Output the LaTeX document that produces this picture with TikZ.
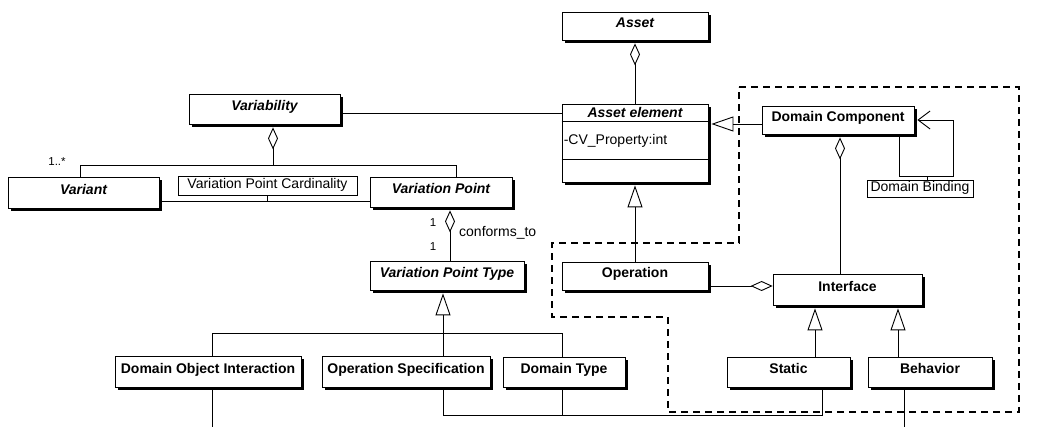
\documentclass[tikz,border=0pt]{standalone}
\usepackage{fontspec}
\setmainfont{Liberation Sans}
\usetikzlibrary{arrows.meta,shadows,calc}
\begin{document}
\begin{tikzpicture}[x=1pt,y=-1pt,
  cls/.style={draw, line width=0.8pt, fill=white, inner sep=0pt,
    font=\fontsize{14}{16}\selectfont\bfseries, text height=10pt, text depth=6pt,
    drop shadow={shadow xshift=3pt, shadow yshift=-3pt, fill=black, opacity=1}},
  abs/.style={cls, font=\fontsize{14}{16}\selectfont\bfseries\itshape},
  lbl/.style={draw, line width=0.6pt, fill=white, inner sep=0pt,
    font=\fontsize{14}{16}\selectfont, text height=10pt, text depth=3pt},
  txt/.style={inner sep=0pt, font=\fontsize{14}{16}\selectfont},
  mult/.style={inner sep=0pt, font=\fontsize{11.5}{13}\selectfont},
  conn/.style={line width=0.9pt},
  agg/.style={conn, -{Diamond[open, fill=white, length=22pt, width=10pt]}},
  gen/.style={conn, -{Triangle[open, fill=white, length=22pt, width=15pt]}},
  nav/.style={conn, -{Straight Barb[length=12pt, width=18pt]}},
  sh/.style={shorten >=3pt},
  region/.style={line width=1.3pt, dash pattern=on 7pt off 5pt}
]
\useasboundingbox (0,0) rectangle (1037,427);

% ---- classes ----
\node[abs, minimum width=146pt, minimum height=28pt] (asset) at (635,26) {Asset};
\node[cls, minimum width=146pt, minimum height=78pt] (ae) at (635,143) {};
\node[abs, minimum width=151pt, minimum height=30pt] (var) at (264.5,109) {Variability};
\node[abs, minimum width=151pt, minimum height=31pt] (variant) at (83.5,192.5) {Variant};
\node[abs, minimum width=142pt, minimum height=30pt] (vp) at (441,192) {Variation Point};
\node[abs, minimum width=154pt, minimum height=29pt] (vpt) at (447,275.5) {Variation Point Type};
\node[cls, minimum width=152pt, minimum height=28pt] (dc) at (838,120) {Domain Component};
\node[cls, minimum width=146pt, minimum height=28pt] (op) at (635,276) {Operation};
\node[cls, minimum width=149pt, minimum height=31pt] (if) at (847.5,289.5) {Interface};
\node[cls, minimum width=186pt, minimum height=31pt] (doi) at (208,371.5) {Domain Object Interaction};
\node[cls, minimum width=168pt, minimum height=31pt] (os) at (406,371.5) {Operation Specification};
\node[cls, minimum width=122pt, minimum height=30pt] (dt) at (564,372) {Domain Type};
\node[cls, minimum width=123pt, minimum height=30pt] (st) at (788.5,372) {Static};
\node[cls, minimum width=124pt, minimum height=30pt] (beh) at (930,372) {Behavior};

% Asset element compartments
\draw[conn] ($(ae.north west)+(0,18)$) -- ($(ae.north east)+(0,18)$);
\draw[conn] ($(ae.north west)+(0,56)$) -- ($(ae.north east)+(0,56)$);
\node[txt, font=\fontsize{14}{16}\selectfont\bfseries\itshape] (aetitle) at ($(ae.north)+(0,9)$) {Asset element};
\node[txt, anchor=west] (aeattr) at ($(ae.north west)+(2,37)$) {-CV\_Property:int};

% ---- association labels ----
\node[lbl, minimum width=179pt, minimum height=19pt] (vpc) at (267.5,185.5) {Variation Point Cardinality};
\node[lbl, minimum width=106pt, minimum height=17pt] (db) at (920,188.5) {Domain Binding};

% ---- routing points ----
\coordinate (j1) at (273,165);
\coordinate (vL) at (80,165);
\coordinate (vR) at (456,165);
\coordinate (aL) at (268,201);
\coordinate (m) at (0,113);
\coordinate (h) at (0,124);
\coordinate (k) at (450,0);
\coordinate (g) at (443,0);
\coordinate (gL) at (212,333);
\coordinate (gR) at (562,333);
\coordinate (q) at (840,0);
\coordinate (r) at (0,286);
\coordinate (s1) at (815,0);
\coordinate (s2) at (898,0);
\coordinate (lpL) at (899,176);
\coordinate (lpR) at (953,176);
\coordinate (t) at (927,176);
\coordinate (b1) at (443,415);
\coordinate (b2) at (822,415);
\coordinate (b3) at (562,415);
\coordinate (doiEnd) at (212,427);
\coordinate (behEnd) at (904,427);

% ---- connectors ----
\draw[agg, sh] (ae.north) -- (asset.south);
\draw[conn] (var.east |- m) -- (ae.west |- m);
\draw[agg, sh] (j1) -- (var.south -| j1);
\draw[conn] (variant.north -| vL) -- (vL) -- (vR) -- (vp.north -| vR);
\node[mult] (mvar) at (57,162) {1..*};
\draw[conn] (variant.east |- aL) -- (vp.west |- aL);
\draw[conn] (vpc.south) -- (vpc.south |- aL);

\draw[agg, sh] (vpt.north -| k) -- (vp.south -| k);
\node[mult] (m1) at (433,223) {1};
\node[mult] (m2) at (433,247) {1};
\node[txt, anchor=west] (conf) at (459,233) {conforms\_to};

\draw[gen, sh] (os.north -| g) -- (vpt.south -| g);
\draw[conn] (doi.north -| gL) -- (gL) -- (gR) -- (dt.north -| gR);

\draw[gen, sh] (dc.west |- h) -- (ae.east |- h);
\draw[nav, sh] (dc.south -| lpL) -- (lpL) -- (lpR) |- (dc.east);
\draw[conn] (db.north -| t) -- (t);
\draw[agg, sh] (if.north -| q) -- (dc.south -| q);

\draw[gen, sh] (op.north) -- (ae.south);
\draw[agg] (op.east |- r) -- (if.west |- r);
\draw[gen, sh] (st.north -| s1) -- (if.south -| s1);
\draw[gen, sh] (beh.north -| s2) -- (if.south -| s2);

\draw[conn] (doi.south -| doiEnd) -- (doiEnd);
\draw[conn] (os.south -| b1) -- (b1) -- (b2) -- (st.south -| b2);
\draw[conn] (dt.south -| b3) -- (b3);
\draw[conn] (beh.south -| behEnd) -- (behEnd);

% ---- component region ----
\draw[region] (739,87) -- (1019,87) -- (1019,412) -- (668,412) -- (668,317)
  -- (552,317) -- (552,243) -- (739,243) -- cycle;
\end{tikzpicture}
\end{document}
